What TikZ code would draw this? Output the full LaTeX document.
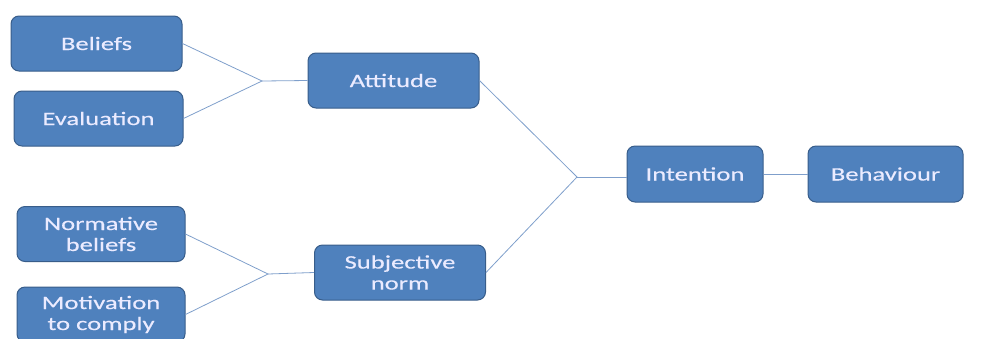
\documentclass[tikz,border=0pt]{standalone}
\usepackage{fontspec}
\newfontfamily\boxfont[FakeStretch=1.4, FakeBold=0.4]{Carlito}
\usepackage{tikz}
\usepackage{xcolor}
\usetikzlibrary{arrows}
\usetikzlibrary{shapes}

\definecolor{boxblue}{HTML}{4F81BD}
\definecolor{boxrim}{HTML}{385D8A}
\definecolor{linkblue}{HTML}{7F9FCB}

\tikzset{
  factor/.style={draw=boxrim, line width=1pt, fill=boxblue, rounded corners=8pt,
    text=white!92!blue, font=\boxfont\fontsize{19}{21}\selectfont, align=center,
    minimum height=55pt, inner sep=0pt},
  link/.style={draw=linkblue, line width=0.8pt}
}

\begin{document}
\begin{tikzpicture}[x=1pt, y=-1pt]
\useasboundingbox (0,0) rectangle (981,338);

\node[factor, minimum width=171pt] (beliefs) at (96.5,43.5) {Beliefs};
\node[factor, minimum width=169pt] (evaluation) at (98.5,118.5) {Evaluation};
\node[factor, minimum width=171pt] (attitude) at (393.5,80.5) {Attitude};
\node[factor, minimum width=168pt] (normbeliefs) at (101,234) {Normative\\beliefs};
\node[factor, minimum width=168pt] (motivation) at (101,314.5) {Motivation\\to comply};
\node[factor, minimum width=171pt] (subjnorm) at (400,272.5) {Subjective\\norm};
\node[factor, minimum width=136pt, minimum height=56pt] (intention) at (695,174) {Intention};
\node[factor, minimum width=155pt, minimum height=56pt] (behaviour) at (885.5,174) {Behaviour};

% Verzweigungspunkte
\coordinate (j1) at (262,81);
\coordinate (j2) at (268,274);
\coordinate (j3) at (577,177);

\draw[link] (beliefs.east) -- (j1) -- (evaluation.east);
\draw[link] (j1) -- (attitude.west);
\draw[link] (normbeliefs.east) -- (j2) -- (motivation.east);
\draw[link] (j2) -- (subjnorm.west);
\draw[link] (attitude.east) -- (j3) -- (subjnorm.east);
\draw[link] (j3) -- (j3 -| intention.west);
\draw[link] (intention.east) -- (behaviour.west);
\end{tikzpicture}
\end{document}
